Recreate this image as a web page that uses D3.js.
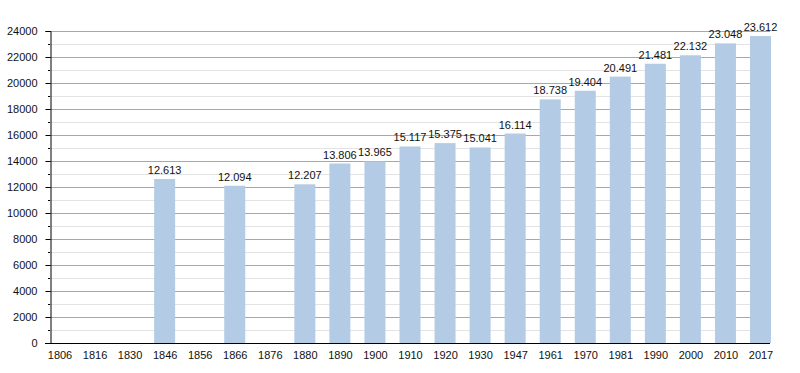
<!DOCTYPE html>
<html>
<head>
<meta charset="utf-8">
<script src="https://cdn.jsdelivr.net/npm/d3@7"></script>
<style>
  body { margin: 0; background: #fff; }
  text { font-family: "Liberation Sans", Arial, sans-serif; fill: #111; }
</style>
</head>
<body>
<div id="chart"></div>
<script>
// chart size
var width = 800;
var height = 373;

// census years and population (null = no census value shown)
var years = ["1806", "1816", "1830", "1846", "1856", "1866", "1876", "1880", "1890", "1900",
  "1910", "1920", "1930", "1947", "1961", "1970", "1981", "1990", "2000", "2010", "2017"];
var population = [null, null, null, 12613, null, 12094, null, 12207, 13806, 13965,
  15117, 15375, 15041, 16114, 18738, 19404, 20491, 21481, 22132, 23048, 23612];
var yTicks = [0, 2000, 4000, 6000, 8000, 10000, 12000, 14000, 16000, 18000, 20000, 22000, 24000];

var svg = d3.select("#chart")
  .append("svg")
  .attr("width", width)
  .attr("height", height);

// plot area edges (window.top is reserved, so use an object)
var plot = { left: 50, right: 770, top: 31, bottom: 343 };
var barWidth = 21;

var x = d3.scalePoint()
  .domain(years)
  .range([59.5, 760.5]);

var y = d3.scaleLinear()
  .domain([0, 24000])
  .range([plot.bottom, plot.top]);

// minor gridlines every 1000
var minor = d3.range(1000, 24000, 2000);
svg.append("g")
  .selectAll("line")
  .data(minor)
  .enter()
  .append("line")
  .attr("x1", plot.left).attr("x2", plot.right)
  .attr("y1", function(d) { return Math.round(y(d)) + 0.5; })
  .attr("y2", function(d) { return Math.round(y(d)) + 0.5; })
  .attr("stroke", "#e3e3e3");

// major gridlines every 2000
svg.append("g")
  .selectAll("line")
  .data(yTicks.slice(1))
  .enter()
  .append("line")
  .attr("x1", plot.left).attr("x2", plot.right)
  .attr("y1", function(d) { return Math.round(y(d)) + 0.5; })
  .attr("y2", function(d) { return Math.round(y(d)) + 0.5; })
  .attr("stroke", "#a8a8a8");

// bars
var data = years.map(function(yr, i) { return { year: yr, value: population[i] }; })
  .filter(function(d) { return d.value !== null; });

svg.append("g")
  .selectAll("rect")
  .data(data)
  .enter()
  .append("rect")
  .attr("x", function(d) { return x(d.year) - barWidth / 2; })
  .attr("y", function(d) { return y(d.value); })
  .attr("width", barWidth)
  .attr("height", function(d) { return plot.bottom - y(d.value); })
  .attr("fill", "#b3cbe5");

// value labels, dot as thousands separator
var fmt = function(v) { return d3.format(",")(v).replace(/,/g, "."); };
svg.append("g")
  .selectAll("text")
  .data(data)
  .enter()
  .append("text")
  .attr("x", function(d) { return x(d.year); })
  .attr("y", function(d) { return y(d.value) - 5; })
  .attr("text-anchor", "middle")
  .attr("font-size", "11px")
  .text(function(d) { return fmt(d.value); });

// y axis
var yAxis = d3.axisLeft(y)
  .tickValues(yTicks)
  .tickSize(5)
  .tickPadding(8)
  .tickFormat(d3.format("d"));
var gy = svg.append("g")
  .attr("transform", "translate(" + (plot.left + 0.5) + ",0)")
  .call(yAxis);
gy.select(".domain").attr("stroke", "#000");
gy.selectAll(".tick line").attr("stroke", "#000");
gy.selectAll("text").attr("font-size", "11px").attr("font-family", "Liberation Sans, Arial, sans-serif");

// minor ticks on y axis
svg.append("g")
  .selectAll("line")
  .data(minor)
  .enter()
  .append("line")
  .attr("x1", plot.left - 2).attr("x2", plot.left)
  .attr("y1", function(d) { return Math.round(y(d)) + 0.5; })
  .attr("y2", function(d) { return Math.round(y(d)) + 0.5; })
  .attr("stroke", "#000");

// x axis
var xAxis = d3.axisBottom(x).tickSize(0).tickPadding(8);
var gx = svg.append("g")
  .attr("transform", "translate(0," + (plot.bottom + 0.5) + ")")
  .call(xAxis);
gx.select(".domain").remove();
gx.selectAll("text").attr("font-size", "11px").attr("font-family", "Liberation Sans, Arial, sans-serif");
svg.append("line")
  .attr("x1", plot.left - 5).attr("x2", plot.right)
  .attr("y1", plot.bottom + 0.5).attr("y2", plot.bottom + 0.5)
  .attr("stroke", "#000");
</script>
</body>
</html>
